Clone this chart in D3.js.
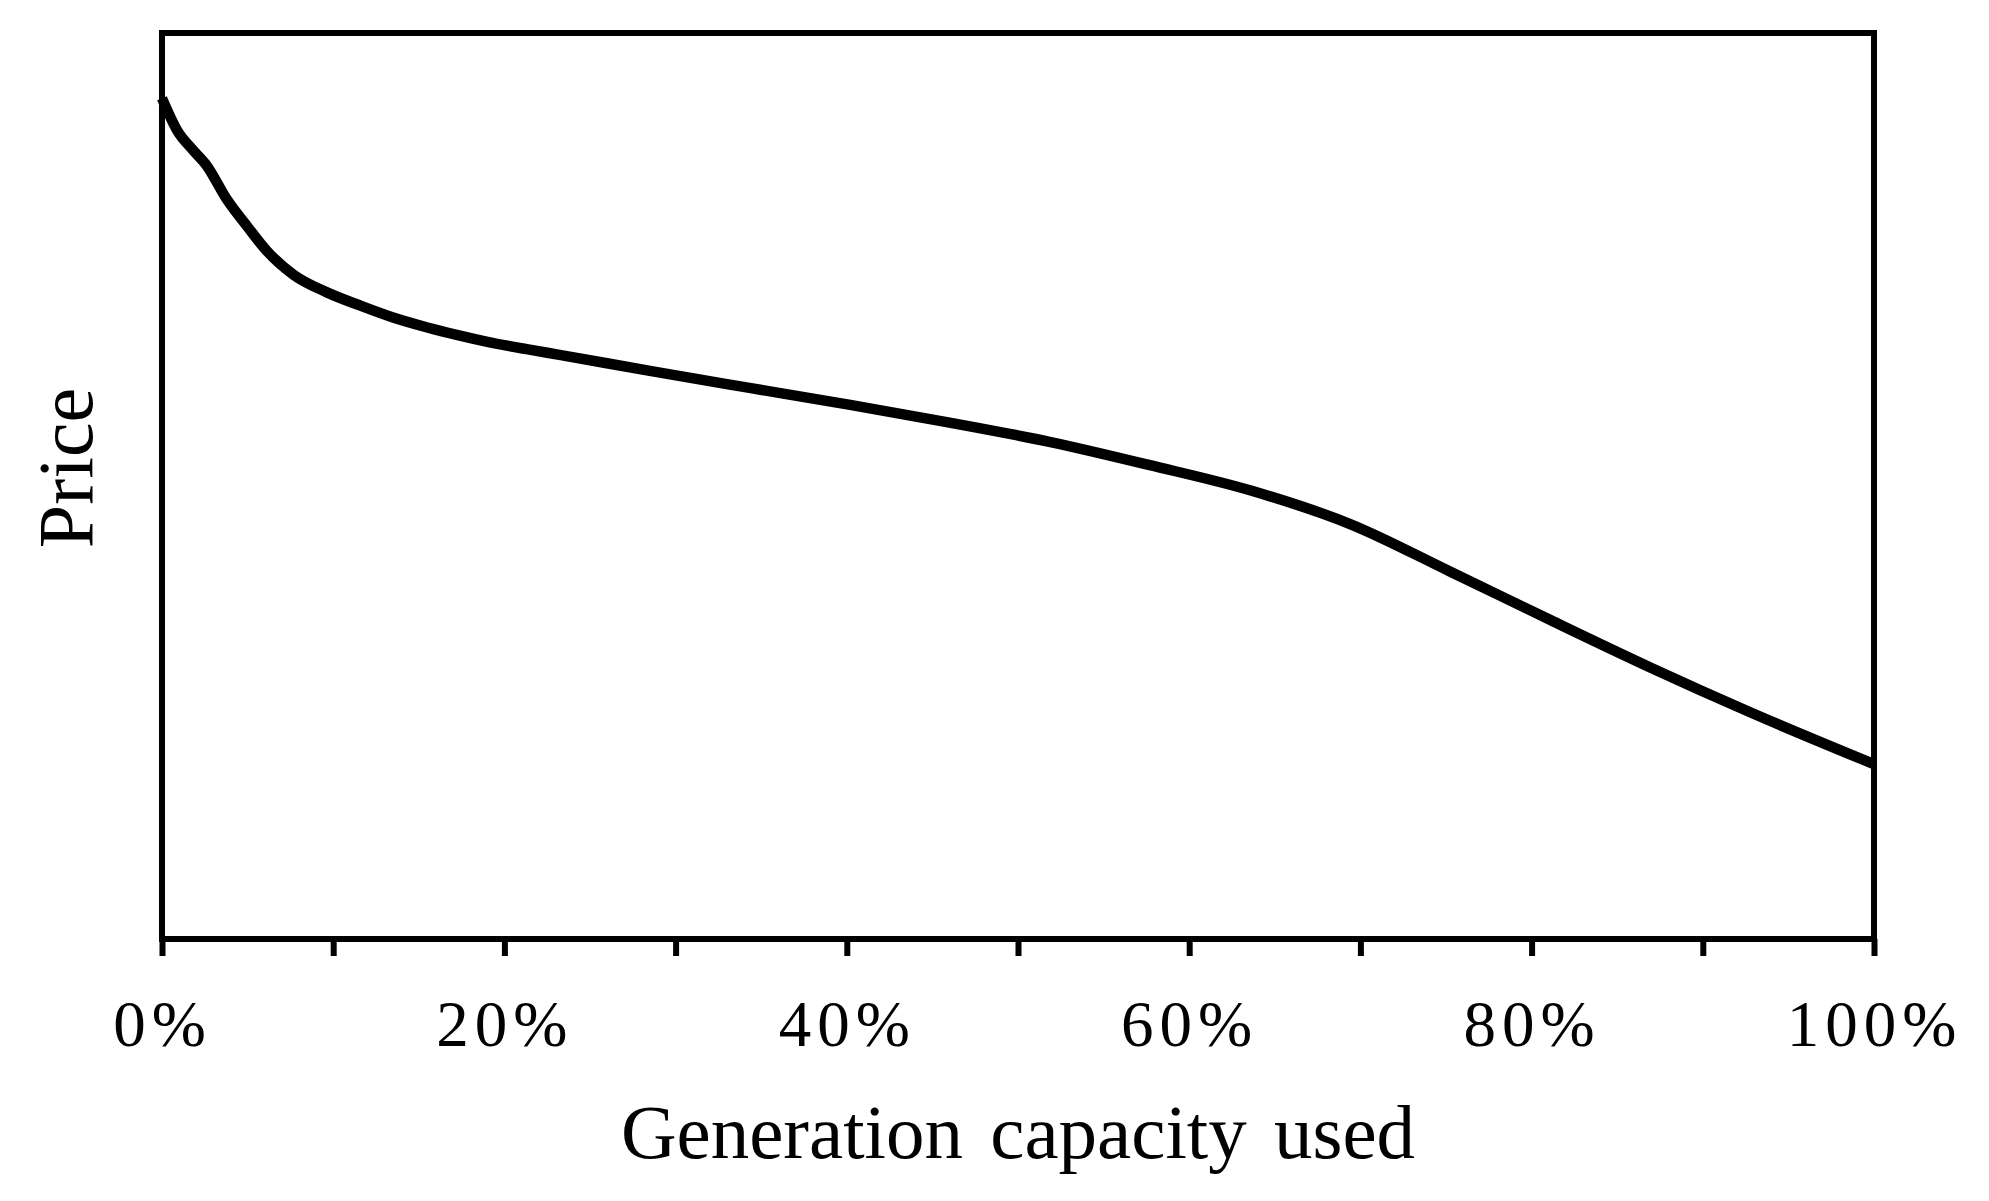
<!DOCTYPE html>
<html>
<head>
<meta charset="utf-8">
<script src="https://cdn.jsdelivr.net/npm/d3@7"></script>
<style>
  body { margin: 0; background: #fff; }
  text { font-family: "Liberation Serif", "Times New Roman", serif; fill: #000; }
</style>
</head>
<body>
<div id="chart"></div>
<script>
// curve (price is unitless, 0 = bottom of frame, 100 = top)
const capacity = [0, 0.9, 1.8, 2.6, 3.8, 5.0, 6.1, 7.7, 9.6, 11.6, 13.5, 15.5, 17.4, 19.3, 21.3, 23.3, 28.5, 34.4, 40.2, 46.0, 51.9, 57.7, 63.6, 69.4, 75.2, 81.1, 86.9, 92.8, 100];
const price = [92.8, 89.2, 87.1, 85.4, 81.6, 78.6, 76.0, 73.3, 71.4, 69.9, 68.6, 67.5, 66.6, 65.8, 65.1, 64.45, 62.7, 60.8, 58.95, 57.0, 54.85, 52.3, 49.5, 45.8, 40.6, 35.2, 30.0, 25.0, 19.3];
const xTicks = [0, 10, 20, 30, 40, 50, 60, 70, 80, 90, 100];
const xLabels = ["0%", "", "20%", "", "40%", "", "60%", "", "80%", "", "100%"];
const xTitle = "Generation capacity used";
const yTitle = "Price";

const width = 1989;
const height = 1201;
const margin = { top: 33, right: 115, bottom: 262, left: 162 };

const svg = d3.select("#chart")
  .append("svg")
  .attr("width", width)
  .attr("height", height);

const x = d3.scaleLinear()
  .domain([0, 100])
  .range([margin.left, width - margin.right]);

const y = d3.scaleLinear()
  .domain([0, 100])
  .range([height - margin.bottom, margin.top]);

const data = capacity.map((c, i) => ({ c, p: price[i] }));

// frame
svg.append("rect")
  .attr("x", x(0))
  .attr("y", y(100))
  .attr("width", x(100) - x(0))
  .attr("height", y(0) - y(100))
  .attr("fill", "none")
  .attr("stroke", "#000")
  .attr("stroke-width", 6);

// bottom axis, ticks only
const xAxis = svg.append("g")
  .attr("transform", `translate(0,${y(0)})`)
  .call(d3.axisBottom(x)
    .tickValues(xTicks)
    .tickSize(17)
    .tickFormat((d, i) => xLabels[i])
    .tickPadding(44));

xAxis.select(".domain").remove();
xAxis.selectAll(".tick line").attr("stroke", "#000").attr("stroke-width", 6);
xAxis.selectAll(".tick text")
  .style("font-family", '"Liberation Serif", "Times New Roman", serif')
  .style("font-size", "65px")
  .style("letter-spacing", "6px");

// the curve
const line = d3.line()
  .x(d => x(d.c))
  .y(d => y(d.p))
  .curve(d3.curveMonotoneX);

svg.append("path")
  .datum(data)
  .attr("d", line)
  .attr("fill", "none")
  .attr("stroke", "#000")
  .attr("stroke-width", 10.5)
  .attr("stroke-linejoin", "round");

// titles
svg.append("text")
  .attr("x", (x(0) + x(100)) / 2)
  .attr("y", 1158)
  .attr("text-anchor", "middle")
  .style("font-size", "77px")
  .style("word-spacing", "8px")
  .text(xTitle);

svg.append("text")
  .attr("transform", `translate(92,468) rotate(-90)`)
  .attr("text-anchor", "middle")
  .style("font-size", "78px")
  .text(yTitle);
</script>
</body>
</html>
